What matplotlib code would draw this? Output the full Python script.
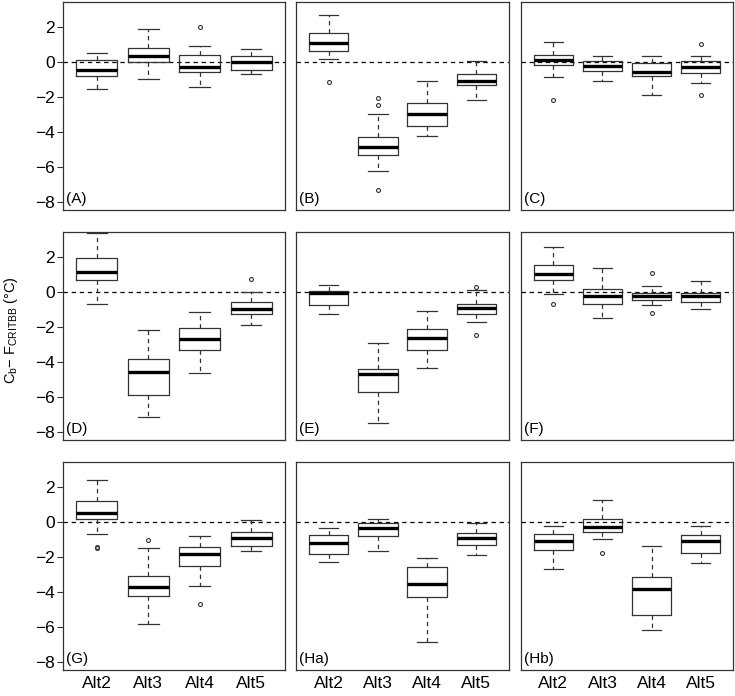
import matplotlib
matplotlib.use('Agg')
import matplotlib.pyplot as plt

plt.rcParams['font.family'] = ['Liberation Sans', 'DejaVu Sans']
plt.rcParams['mathtext.default'] = 'regular'

categories = ['Alt2', 'Alt3', 'Alt4', 'Alt5']
panel_labels = ['(A)', '(B)', '(C)', '(D)', '(E)', '(F)', '(G)', '(Ha)', '(Hb)']

# box statistics per panel (rows) and alternative (columns)
medians = [
    [-0.44, 0.38, -0.29, 0.00],
    [1.12, -4.82, -2.93, -1.09],
    [0.13, -0.21, -0.55, -0.29],
    [1.15, -4.55, -2.68, -0.94],
    [-0.02, -4.64, -2.60, -0.92],
    [1.04, -0.19, -0.23, -0.23],
    [0.51, -3.70, -1.83, -0.91],
    [-1.17, -0.30, -3.51, -0.91],
    [-1.04, -0.25, -3.79, -1.06],
]
q1 = [
    [-0.80, 0.04, -0.55, -0.44],
    [0.67, -5.31, -3.62, -1.31],
    [-0.17, -0.48, -0.80, -0.61],
    [0.72, -5.89, -3.28, -1.21],
    [-0.75, -5.70, -3.28, -1.23],
    [0.68, -0.66, -0.45, -0.53],
    [0.21, -4.21, -2.51, -1.36],
    [-1.81, -0.79, -4.28, -1.28],
    [-1.60, -0.55, -5.32, -1.75],
]
q3 = [
    [0.11, 0.84, 0.44, 0.38],
    [1.68, -4.29, -2.30, -0.69],
    [0.40, 0.10, -0.04, 0.06],
    [1.94, -3.79, -2.06, -0.55],
    [0.08, -4.36, -2.11, -0.64],
    [1.55, 0.21, -0.06, -0.02],
    [1.21, -3.09, -1.43, -0.53],
    [-0.70, -0.04, -2.53, -0.60],
    [-0.68, 0.17, -3.13, -0.74],
]
whis_lo = [
    [-1.54, -0.95, -1.41, -0.65],
    [0.19, -6.23, -4.21, -2.13],
    [-0.84, -1.09, -1.85, -1.18],
    [-0.66, -7.11, -4.62, -1.87],
    [-1.21, -7.49, -4.32, -1.70],
    [-0.09, -1.47, -0.75, -0.96],
    [-0.66, -5.83, -3.64, -1.62],
    [-2.25, -1.64, -6.85, -1.85],
    [-2.68, -0.98, -6.15, -2.34],
]
whis_hi = [
    [0.51, 1.92, 0.93, 0.74],
    [2.72, -2.95, -1.07, 0.08],
    [1.18, 0.34, 0.34, 0.36],
    [3.38, -2.15, -1.11, 0.02],
    [0.42, -2.87, -1.06, 0.15],
    [2.57, 1.38, 0.34, 0.64],
    [2.43, -1.47, -0.79, 0.15],
    [-0.30, 0.21, -2.06, -0.02],
    [-0.21, 1.25, -1.38, -0.21],
]
outliers = [
    [[], [], [2.00], []],
    [[-1.12], [-2.06, -2.42, -7.30], [], []],
    [[-2.13], [], [], [1.03, -1.87]],
    [[], [], [], [0.77]],
    [[], [], [], [0.30, -2.43]],
    [[-0.66], [], [1.13, -1.17], []],
    [[-1.42, -1.47], [-1.00], [-4.64], []],
    [[], [], [], []],
    [[], [-1.74], [], []],
]

W, H = 735, 696
col_px = [(63, 222), (296, 213), (521, 212)]
row_px = [(2, 208), (232, 208), (462, 208)]
ink = '#333333'

fig = plt.figure(figsize=(W / 100, H / 100), dpi=100)

for i in range(9):
    r, c = divmod(i, 3)
    left, width = col_px[c]
    top, height = row_px[r]
    ax = fig.add_axes([left / W, (H - top - height) / H, width / W, height / H])

    stats = []
    for j, cat in enumerate(categories):
        stats.append({
            'med': medians[i][j], 'q1': q1[i][j], 'q3': q3[i][j],
            'whislo': whis_lo[i][j], 'whishi': whis_hi[i][j],
            'fliers': outliers[i][j], 'label': cat,
        })
    ax.bxp(stats, positions=range(1, 5), widths=0.8, showfliers=True,
           boxprops=dict(color=ink, linewidth=0.9),
           medianprops=dict(color='black', linewidth=2.4, solid_capstyle='butt'),
           whiskerprops=dict(color=ink, linewidth=0.9, linestyle=(0, (3.5, 3))),
           capprops=dict(color=ink, linewidth=0.9),
           capwidths=0.4,
           flierprops=dict(marker='o', markersize=2.8, markerfacecolor='none',
                           markeredgecolor=ink, markeredgewidth=0.8))
    ax.axhline(0, color='black', linewidth=0.9, linestyle=(0, (3.5, 3)), zorder=0.5)

    ax.set_xlim(0.34, 4.66)
    ax.set_ylim(-8.44, 3.45)
    for sp in ax.spines.values():
        sp.set_color(ink)
        sp.set_linewidth(0.9)

    ax.tick_params(axis='x', length=0, labelsize=12.5, pad=4)
    if r < 2:
        ax.set_xticklabels([])
    if c == 0:
        ax.set_yticks([-8, -6, -4, -2, 0, 2])
        ax.set_yticklabels(['\u22128', '\u22126', '\u22124', '\u22122', '0', '2'])
        ax.tick_params(axis='y', length=4, width=0.8, color=ink, labelsize=12.5, pad=2)
    else:
        ax.set_yticks([])

    ax.text(0.015, 0.02, panel_labels[i], transform=ax.transAxes,
            fontsize=11, ha='left', va='bottom')

fig.text(11 / W, 1 - 330 / H, 'C$_b$\u2212 F$_{CRITBB}$ (°C)', rotation=90,
         ha='center', va='center', fontsize=10.5)

fig.savefig('out.png', dpi=100)
